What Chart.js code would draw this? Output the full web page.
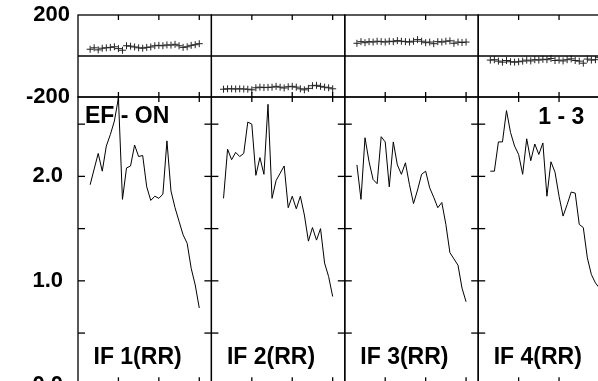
<!DOCTYPE html>
<html>
<head>
<meta charset="utf-8">
<script src="https://cdn.jsdelivr.net/npm/chart.js@4.4.1/dist/chart.umd.min.js"></script>
<style>
body { margin: 0; overflow: hidden; background: #ffffff; }
</style>
</head>
<body>
<canvas id="panel-canvas" width="620" height="400"></canvas>
<script>
let bins = [3, 4, 5, 6, 7, 8, 9, 10, 11, 12, 13, 14, 15, 16, 17, 18, 19, 20, 21, 22, 23, 24, 25, 26, 27, 28, 29, 30];
let panel_names = ['IF 1(RR)', 'IF 2(RR)', 'IF 3(RR)', 'IF 4(RR)'];
let x_ticks = [10, 20, 30];
let ratio_ticks = [0.5, 1.0, 1.5, 2.0, 2.5];
let top_ticks = [-200, 200];

// upper strip (difference, -200..200)
let top_vals_1 = [33, 40, 30, 38, 40, 42, 45, 36, 28, 50, 48, 44, 40, 38, 42, 44, 50, 52, 50, 54, 53, 57, 50, 42, 45, 52, 55, 60];
let top_vals_2 = [-162, -160, -160, -161, -160, -161, -162, -165, -155, -152, -154, -153, -152, -148, -152, -156, -150, -148, -152, -160, -165, -158, -145, -143, -148, -152, -155, -160];
let top_vals_3 = [62, 70, 65, 70, 68, 72, 70, 68, 72, 70, 75, 72, 70, 68, 72, 80, 72, 65, 68, 60, 70, 68, 72, 74, 62, 68, 66, 68];
let top_vals_4 = [-20, -18, -25, -30, -22, -28, -30, -28, -25, -20, -24, -18, -20, -16, -18, -12, -22, -20, -24, -18, -14, -22, -25, -35, -15, -20, -18, -8];

// lower panels (ratio)
let ratio_vals_1 = [1.92, 2.07, 2.22, 2.05, 2.29, 2.40, 2.53, 2.75, 1.78, 2.08, 2.10, 2.30, 2.19, 2.20, 1.90, 1.77, 1.81, 1.79, 1.83, 2.34, 1.86, 1.70, 1.57, 1.44, 1.36, 1.12, 0.96, 0.74];
let ratio_vals_2 = [1.79, 2.26, 2.16, 2.23, 2.19, 2.22, 2.52, 2.50, 2.01, 2.18, 2.02, 2.69, 1.79, 1.96, 2.03, 2.10, 1.70, 1.81, 1.69, 1.81, 1.63, 1.38, 1.51, 1.39, 1.50, 1.17, 1.04, 0.85];
let ratio_vals_3 = [2.11, 1.78, 2.37, 2.14, 1.97, 1.93, 2.38, 2.33, 1.90, 2.33, 2.11, 2.02, 2.13, 1.92, 1.74, 1.87, 2.02, 2.05, 1.89, 1.80, 1.70, 1.75, 1.54, 1.27, 1.21, 1.15, 0.93, 0.80];
let ratio_vals_4 = [2.05, 2.05, 2.33, 2.33, 2.63, 2.42, 2.29, 2.21, 2.02, 2.36, 2.15, 2.31, 2.21, 2.32, 1.81, 2.14, 2.04, 1.81, 1.62, 1.73, 1.85, 1.84, 1.54, 1.51, 1.22, 1.06, 0.98, 0.93];

let top_series = [top_vals_1, top_vals_2, top_vals_3, top_vals_4];
let ratio_series = [ratio_vals_1, ratio_vals_2, ratio_vals_3, ratio_vals_4];
let x_axis_ids = ['x1', 'x2', 'x3', 'x4'];
let label_font = 'bold 23px "Liberation Sans", Arial, sans-serif';

let datasets = [];
for (var k = 0; k < 4; k++) {
	datasets.push({
		xAxisID: x_axis_ids[k],
		yAxisID: 'yTop',
		data: bins.map((b, i) => ({x: b, y: top_series[k][i]})),
		showLine: false,
		pointStyle: 'cross',
		pointRadius: 3.5,
		borderColor: '#222222',
		borderWidth: 1
	});
	datasets.push({
		xAxisID: x_axis_ids[k],
		yAxisID: 'yBot',
		data: bins.map((b, i) => ({x: b, y: ratio_series[k][i]})),
		borderColor: '#000000',
		borderWidth: 1,
		pointRadius: 0,
		tension: 0
	});
}

//frames, inward ticks and panel captions
let panelFrames = {
	id: 'panelFrames',
	afterDatasetsDraw(chart) {
		let ctx = chart.ctx;
		let yTop = chart.scales.yTop;
		let yBot = chart.scales.yBot;
		let seg = function(a, b, c, d) {
			ctx.beginPath(); ctx.moveTo(a, b); ctx.lineTo(c, d); ctx.stroke();
		};
		ctx.save();
		ctx.strokeStyle = '#000000';
		ctx.lineWidth = 1.3;
		for (var k = 0; k < x_axis_ids.length; k++) {
			let xs = chart.scales[x_axis_ids[k]];
			let l = xs.left, r = xs.right;
			ctx.strokeRect(l, yTop.top, r - l, yTop.bottom - yTop.top);
			ctx.strokeRect(l, yBot.top, r - l, yBot.bottom - yBot.top);
			let z = yTop.getPixelForValue(0);
			seg(l, z, r, z);
			x_ticks.forEach(v => {
				let px = xs.getPixelForValue(v);
				seg(px, yTop.top, px, yTop.top + 5);
				seg(px, yTop.bottom, px, yTop.bottom - 5);
				seg(px, yBot.top, px, yBot.top + 5);
				seg(px, yBot.bottom, px, yBot.bottom - 8);
			});
			ratio_ticks.forEach(v => {
				let py = yBot.getPixelForValue(v);
				seg(l, py, l + 7, py);
				seg(r, py, r - 7, py);
			});
			ctx.font = label_font;
			ctx.fillStyle = '#000000';
			ctx.textAlign = 'left';
			ctx.textBaseline = 'alphabetic';
			ctx.fillText(panel_names[k], l + 15.5, yBot.bottom - 21);
		}
		let x1 = chart.scales.x1, x4 = chart.scales.x4;
		ctx.fillText('EF - ON', x1.left + 7, yBot.top + 26);
		ctx.fillText('1 - 3', x4.left + 60, yBot.top + 27);
		ctx.restore();
	}
};

let tick_font = {family: '"Liberation Sans", Arial, sans-serif', size: 22, weight: 'bold'};
let x_scale = function() {
	return {type: 'linear', position: 'bottom', stack: 'cols', stackWeight: 1, min: 0, max: 33, display: false};
};
//fixed axis width, and no extra room kept for the labels above/below
let fix_y_axis = function(s) {
	s.width = 78;
	s.paddingTop = 0;
	s.paddingBottom = 0;
};

let panel_chart = new Chart(document.getElementById('panel-canvas').getContext('2d'), {
	type: 'line',
	data: {datasets: datasets},
	options: {
		responsive: false,
		animation: false,
		layout: {padding: {top: 15, bottom: 14.7, left: 0, right: 8.4}},
		plugins: {legend: {display: false}, tooltip: {enabled: false}},
		scales: {
			yBot: {
				type: 'linear', position: 'left', stack: 'rows', stackWeight: 288.3,
				min: 0, max: 2.76,
				afterFit: fix_y_axis,
				grid: {display: false, drawTicks: false},
				border: {display: false},
				ticks: {
					stepSize: 0.5, autoSkip: false, padding: 15, color: '#000000', font: tick_font,
					callback: v => (Math.abs(v % 1) < 1e-9) ? v.toFixed(1) : ''
				}
			},
			yTop: {
				type: 'linear', position: 'left', stack: 'rows', stackWeight: 82,
				min: -200, max: 200,
				afterFit: fix_y_axis,
				afterBuildTicks: s => { s.ticks = top_ticks.map(v => ({value: v})); },
				grid: {display: false, drawTicks: false},
				border: {display: false},
				ticks: {autoSkip: false, padding: 8, color: '#000000', font: tick_font}
			},
			x1: x_scale(),
			x2: x_scale(),
			x3: x_scale(),
			x4: x_scale()
		}
	},
	plugins: [panelFrames]
});
</script>
</body>
</html>
